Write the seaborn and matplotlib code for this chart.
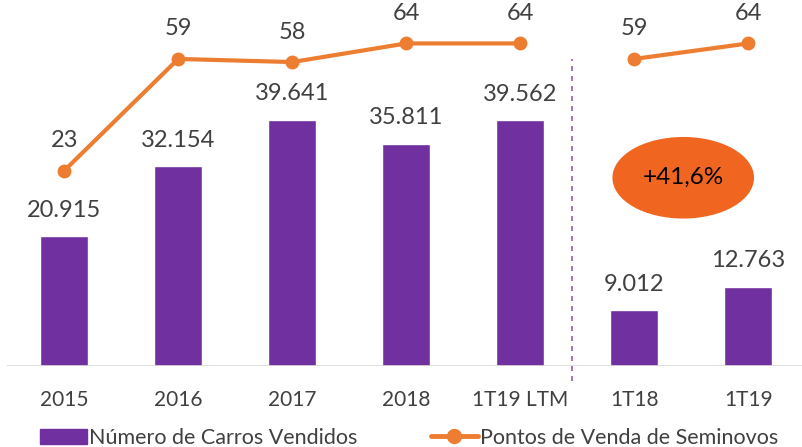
import numpy as np
import pandas as pd
import matplotlib
matplotlib.use("Agg")
import matplotlib.pyplot as plt
from matplotlib.patches import Ellipse, Patch
from matplotlib.lines import Line2D
import seaborn as sns

# Data
categorias = ["2015", "2016", "2017", "2018", "1T19 LTM", "1T18", "1T19"]
carros_vendidos = [20915, 32154, 39641, 35811, 39562, 9012, 12763]
pontos_venda = [23, 59, 58, 64, 64, 59, 64]
segmento = ["anual", "anual", "anual", "anual", "anual", "trim", "trim"]
destaque = "+41,6%"

roxo = "#7030A0"
laranja = "#ED7D31"
laranja_elipse = "#F0651F"
cinza_texto = "#404040"

sns.set_theme(style="white")
plt.rcParams["font.family"] = ["Lato", "DejaVu Sans"]

df = pd.DataFrame({"cat": categorias, "carros": carros_vendidos,
                   "pontos": pontos_venda, "seg": segmento})
df["x"] = np.arange(len(df))

fig = plt.figure(figsize=(8.02, 4.47), dpi=100)
ax = fig.add_axes([0.009, 0.181, 0.995, 0.819])

sns.barplot(data=df, x="cat", y="carros", color=roxo, width=0.42,
            saturation=1, ax=ax)
ax.set_ylim(0, 58900)
ax.set_xlim(-0.5, 6.5)

for i, v in enumerate(carros_vendidos):
    ax.text(i, v + 2500, f"{v:,}".replace(",", "."), ha="center", va="bottom",
            fontsize=17, color=cinza_texto)

# secondary axis for the line
ax2 = ax.twinx()
for seg, sub in df.groupby("seg"):
    sns.lineplot(data=sub, x="x", y="pontos", color=laranja, linewidth=3,
                 marker="o", markersize=10, markeredgewidth=0, ax=ax2,
                 legend=False)
ax2.set_ylim(-40, 78)
for i, v in enumerate(pontos_venda):
    ax2.text(i, v + 6.3, str(v), ha="center", va="bottom",
             fontsize=17, color=cinza_texto)
ax2.set_yticks([])
ax2.set_ylabel("")
ax2.set_xlim(-0.5, 6.5)

# divider between annual and quarterly
ax.axvline(4.45, ymin=-0.04, ymax=0.84, color="#9B59B6", linestyle=(0, (3, 3)),
           linewidth=1.2, clip_on=False)

# growth badge
ax.add_patch(Ellipse((5.43, 30300), width=1.23, height=12900,
                     color=laranja_elipse, zorder=5))
ax.text(5.43, 30300, destaque, ha="center", va="center", fontsize=17.5,
        color="black", zorder=6)

# axes styling
for a in (ax, ax2):
    for s in ["top", "right", "left", "bottom"]:
        a.spines[s].set_visible(False)
ax.axhline(0, color="#D9D9D9", linewidth=1.2)
ax.set_yticks([])
ax.set_xlabel("")
ax.set_ylabel("")
ax.tick_params(axis="x", length=0, pad=17, labelsize=15, labelcolor=cinza_texto)

handles = [Patch(color=roxo, label="Número de Carros Vendidos"),
           Line2D([0], [0], color=laranja, linewidth=3.5, marker="o",
                  markersize=10, label="Pontos de Venda de Seminovos")]
fig.legend(handles=handles, loc="lower center", ncol=2, frameon=False,
           fontsize=15.5, bbox_to_anchor=(0.51, -0.045), handlelength=2.2,
           handletextpad=0.1, columnspacing=3.4, labelcolor=cinza_texto)

plt.savefig("out.png", dpi=100)
